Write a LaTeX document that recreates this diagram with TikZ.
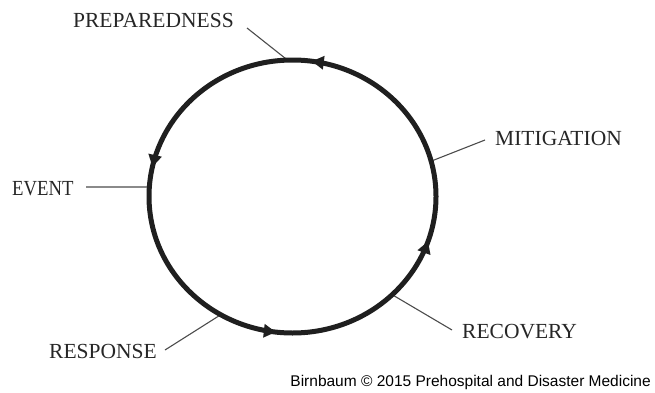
\documentclass[tikz,border=0pt]{standalone}
\usepackage{graphicx}
\usepackage{fontspec}
\setmainfont{Liberation Serif}
\newfontfamily\capfont{Liberation Sans}
\usetikzlibrary{calc,arrows.meta,decorations.markings}
\begin{document}
\begin{tikzpicture}[x=1pt,y=1pt,
  lbl/.style={font=\fontsize{21.5}{24}\selectfont, text=black!85, inner sep=0pt},
  leader/.style={draw=black!70, line width=1.1pt},
  ring/.style={color=black!88, line width=5pt},
  cyclearrows/.style={postaction={decorate}, decoration={markings,
    mark=at position 0.228 with {\arrow{Triangle[length=12pt,width=13pt]}},
    mark=at position 0.466 with {\arrow{Triangle[length=12pt,width=13pt]}},
    mark=at position 0.731 with {\arrow{Triangle[length=12pt,width=13pt]}},
    mark=at position 0.948 with {\arrow{Triangle[length=12pt,width=13pt]}}}}]
\useasboundingbox (0,0) rectangle (655,392);
\coordinate (c) at (292.5,195.5);
% labels
\node[lbl,anchor=base west] (prep) at (73,364) {PREPAREDNESS};
\node[lbl,anchor=base west] (miti) at (495,247) {MITIGATION};
\node[lbl,anchor=base west] (event) at (12,197) {\scalebox{0.87}[1]{EVENT}};
\node[lbl,anchor=base west] (resp) at (49,34) {RESPONSE};
\node[lbl,anchor=base west] (reco) at (462,54) {RECOVERY};
\node[font=\capfont\fontsize{15.5}{18}\selectfont, anchor=base east, inner sep=0pt, text=black] (cap) at (651,6) {Birnbaum © 2015 Prehospital and Disaster Medicine};
% leader start points
\coordinate (sP) at (247,364);
\coordinate (sM) at (485,252);
\coordinate (sE) at (86,205);
\coordinate (sRs) at (165,42);
\coordinate (sRc) at (452,62);
% points on the ring
\coordinate (rP) at ($(c)+(92:143.5pt and 136.5pt)$);
\coordinate (rM) at ($(c)+(15:143.5pt and 136.5pt)$);
\coordinate (rE) at ($(c)+(176:143.5pt and 136.5pt)$);
\coordinate (rRs) at ($(c)+(240:143.5pt and 136.5pt)$);
\coordinate (rRc) at ($(c)+(-46:143.5pt and 136.5pt)$);
\draw[leader] (sP) -- (rP);
\draw[leader] (sM) -- (rM);
\draw[leader] (sE) -- (rE);
\draw[leader] (sRs) -- (rRs);
\draw[leader] (sRc) -- (rRc);
% ring
\draw[ring, cyclearrows] (c) ellipse [x radius=143.5pt, y radius=136.5pt];
\end{tikzpicture}
\end{document}
